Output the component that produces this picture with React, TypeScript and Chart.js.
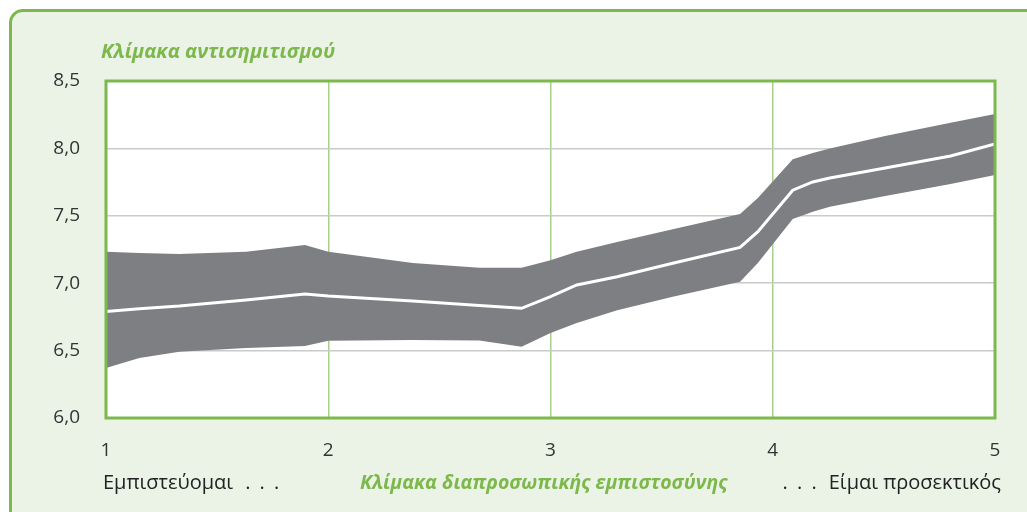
import React, { useEffect, useRef } from "react";
import { Chart, registerables } from "chart.js";

Chart.register(...registerables);

const xs = [1.0, 1.15, 1.33, 1.63, 1.895, 2.0, 2.38, 2.68, 2.87, 3.0, 3.118, 3.3, 3.55, 3.853, 3.933, 4.09, 4.18, 4.257, 4.5, 4.8, 5.0];
const upper = [7.234, 7.224, 7.217, 7.234, 7.283, 7.234, 7.15, 7.115, 7.115, 7.17, 7.234, 7.306, 7.40, 7.513, 7.632, 7.919, 7.966, 8.0, 8.09, 8.19, 8.255];
const mean = [6.79, 6.81, 6.83, 6.875, 6.92, 6.905, 6.868, 6.835, 6.814, 6.9, 6.987, 7.048, 7.148, 7.265, 7.382, 7.69, 7.751, 7.78, 7.852, 7.944, 8.033];
const lower = [6.371, 6.445, 6.492, 6.52, 6.534, 6.573, 6.579, 6.575, 6.529, 6.63, 6.705, 6.8, 6.9, 7.011, 7.15, 7.476, 7.53, 7.567, 7.645, 7.736, 7.803];

const yTicks = [6.0, 6.5, 7.0, 7.5, 8.0, 8.5];
const xTicks = [1, 2, 3, 4, 5];

const titleText = "Κλίμακα αντισημιτισμού";
const xTitle = "Κλίμακα διαπροσωπικής εμπιστοσύνης";
const leftLabel = "Εμπιστεύομαι";
const rightLabel = "Είμαι προσεκτικός";
const dots = ". . .";

const GREEN = "#7DB84C";
const BAND = "#7E7F83";
const FONT = "'Open Sans', sans-serif";

export default function App() {
  const ref = useRef<HTMLCanvasElement>(null);

  useEffect(() => {
    const canvas = ref.current!;
    const areaPlugin = {
      id: "areaPlugin",
      beforeDraw(chart: any) {
        const { ctx, chartArea: a } = chart;
        ctx.save();
        ctx.fillStyle = "#ffffff";
        ctx.fillRect(a.left, a.top, a.right - a.left, a.bottom - a.top);
        ctx.restore();
      },
      afterDatasetsDraw(chart: any) {
        const { ctx, chartArea: a } = chart;
        ctx.save();
        ctx.strokeStyle = GREEN;
        ctx.lineWidth = 3;
        ctx.strokeRect(a.left, a.top, a.right - a.left, a.bottom - a.top);
        ctx.restore();
      },
    };
    const chart = new Chart(canvas, {
      type: "line",
      data: {
        datasets: [
          {
            data: xs.map((x, i) => ({ x, y: mean[i] })),
            borderColor: "#ffffff",
            borderWidth: 3,
            pointRadius: 0,
            fill: false,
            tension: 0,
          },
          {
            data: xs.map((x, i) => ({ x, y: upper[i] })),
            borderColor: BAND,
            borderWidth: 0,
            backgroundColor: BAND,
            pointRadius: 0,
            fill: "+1",
            tension: 0,
          },
          {
            data: xs.map((x, i) => ({ x, y: lower[i] })),
            borderColor: BAND,
            borderWidth: 0,
            pointRadius: 0,
            fill: false,
            tension: 0,
          },
        ],
      },
      options: {
        animation: false,
        responsive: false,
        layout: { padding: { left: 0, right: 32, top: 81, bottom: 0 } },
        plugins: { legend: { display: false }, tooltip: { enabled: false } },
        scales: {
          x: {
            type: "linear",
            min: 1,
            max: 5,
            afterBuildTicks: (s: any) => {
              s.ticks = xTicks.map((v) => ({ value: v }));
            },
            afterFit: (s: any) => {
              s.height = 94;
            },
            ticks: {
              callback: (v: any) => String(v),
              color: "#333333",
              font: { family: FONT, size: 19 },
              padding: 21,
              maxRotation: 0,
            },
            grid: { color: "#A8D08D", drawTicks: false, lineWidth: 1.5 },
            border: { display: false },
          },
          y: {
            min: 6,
            max: 8.5,
            afterBuildTicks: (s: any) => {
              s.ticks = yTicks.map((v) => ({ value: v }));
            },
            afterFit: (s: any) => {
              s.width = 106;
            },
            ticks: {
              callback: (v: any) => Number(v).toFixed(1).replace(".", ","),
              color: "#333333",
              font: { family: FONT, size: 19 },
              padding: 26,
            },
            grid: { color: "#CACACA", drawTicks: false, lineWidth: 1.5 },
            border: { display: false },
          },
        },
      },
      plugins: [areaPlugin],
    });
    return () => chart.destroy();
  }, []);

  const txt = { position: "absolute" as const, whiteSpace: "pre" as const, lineHeight: "normal" };

  return (
    <div style={{ position: "fixed", left: 0, top: 0, width: 1027, height: 512, overflow: "hidden", background: "#ffffff" }}>
      <div
        style={{
          position: "absolute",
          left: 9,
          top: 9,
          width: 1100,
          height: 600,
          boxSizing: "border-box",
          border: `3px solid ${GREEN}`,
          borderRadius: 14,
          background: "#EBF3E6",
        }}
      />
      <canvas ref={ref} width={1027} height={512} style={{ position: "absolute", left: 0, top: 0 }} />
      <div style={{ ...txt, left: 101, top: 37, font: `italic bold 20px ${FONT}`, color: GREEN }}>{titleText}</div>
      <div style={{ ...txt, left: 103, top: 468, font: `20px ${FONT}`, color: "#222" }}>
        {leftLabel}
        <span style={{ marginLeft: 12, wordSpacing: 4 }}>{dots}</span>
      </div>
      <div style={{ ...txt, left: 360, top: 468, font: `italic bold 19.5px ${FONT}`, color: GREEN }}>{xTitle}</div>
      <div style={{ ...txt, right: 26, top: 468, font: `20px ${FONT}`, color: "#222" }}>
        <span style={{ marginRight: 12, wordSpacing: 4 }}>{dots}</span>
        {rightLabel}
      </div>
    </div>
  );
}
